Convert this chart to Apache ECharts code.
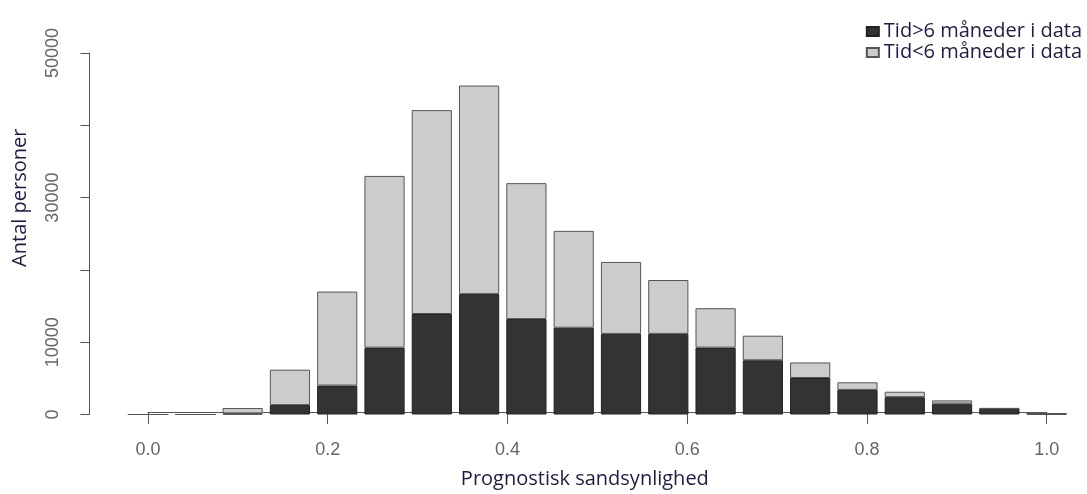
<!DOCTYPE html>
<html><head><meta charset="utf-8">
<script src="https://cdn.jsdelivr.net/npm/echarts@6/dist/echarts.min.js"></script>
<style>html,body{margin:0;padding:0;background:#fff}#c{width:1087px;height:494px}</style>
</head><body><div id="c"></div>
<script>
// Bins of width 0.05 (start values)
const bins = ['0.00','0.05','0.10','0.15','0.20','0.25','0.30','0.35','0.40','0.45',
              '0.50','0.55','0.60','0.65','0.70','0.75','0.80','0.85','0.90','0.95'];
// Tid>6 måneder i data (dark, bottom)
const over6 = [0,0,150,1300,4000,9250,13900,16650,13200,12000,
               11150,11150,9250,7500,5050,3400,2400,1500,800,130];
// Tid<6 måneder i data (light, stacked on top)
const under6 = [0,0,750,4900,13000,23750,28200,28850,18800,13400,
                9950,7450,5450,3400,2150,1050,750,450,80,20];
const xTickValues = [0.0,0.2,0.4,0.6,0.8,1.0];
const yLabelsShown = [0,10000,30000,50000];
const seriesNames = ['Tid>6 måneder i data','Tid<6 måneder i data'];

const chart = echarts.init(document.getElementById('c'), null, {renderer:'canvas'});
const tickFont = {fontFamily:'Liberation Sans', fontSize:18, color:'#666'};
const titleFont = {fontFamily:'Open Sans', fontSize:20, color:'#211a48'};
const axisCol = '#555';

chart.setOption({
  animation:false,
  backgroundColor:'#fff',
  legend:{
    data:seriesNames,
    orient:'vertical',
    right:0, top:16,
    itemWidth:12, itemHeight:9, itemGap:0,
    textStyle:{fontFamily:'Open Sans', fontSize:20, color:'#211a48', lineHeight:21, padding:[0,0,0,0]},
    icon:'rect'
  },
  grid:[
    {left:124.4, right:16.7, top:53, bottom:79.5},
    {left:148, right:40.3, top:53, bottom:79.5}
  ],
  xAxis:[
    {type:'category', gridIndex:0, data:bins, show:false},
    {type:'value', gridIndex:1, min:0, max:1, interval:0.2,
     axisLine:{show:true, lineStyle:{color:axisCol, width:1}},
     axisTick:{show:true, length:12, lineStyle:{color:axisCol}},
     splitLine:{show:false},
     axisLabel:Object.assign({margin:29, formatter:v=>xTickValues.indexOf(v)>=0?v.toFixed(1):''}, tickFont),
     name:'Prognostisk sandsynlighed', nameLocation:'middle', nameGap:57,
     nameTextStyle:Object.assign({padding:[0,25,0,0]}, titleFont)}
  ],
  yAxis:[
    {type:'value', gridIndex:0, min:0, max:50000, interval:10000, offset:35,
     axisLine:{show:true, lineStyle:{color:axisCol, width:1}},
     axisTick:{show:true, length:9, lineStyle:{color:axisCol}},
     splitLine:{show:false},
     axisLabel:Object.assign({rotate:90, margin:27, formatter:v=>yLabelsShown.indexOf(v)>=0?String(v):''}, tickFont),
     name:'Antal personer', nameLocation:'middle', nameGap:59,
     nameTextStyle:Object.assign({padding:[0,0,0,72]}, titleFont)},
    {type:'value', gridIndex:1, min:0, max:1, show:false}
  ],
  series:[
    {name:seriesNames[0], type:'bar', stack:'s', xAxisIndex:0, yAxisIndex:0,
     data:over6, barCategoryGap:'15%',
     itemStyle:{color:'#333333', borderColor:'#222', borderWidth:1}},
    {name:seriesNames[1], type:'bar', stack:'s', xAxisIndex:0, yAxisIndex:0,
     data:under6, barCategoryGap:'15%',
     itemStyle:{color:'#cccccc', borderColor:'#555', borderWidth:1}}
  ]
});
</script>
</body></html>
